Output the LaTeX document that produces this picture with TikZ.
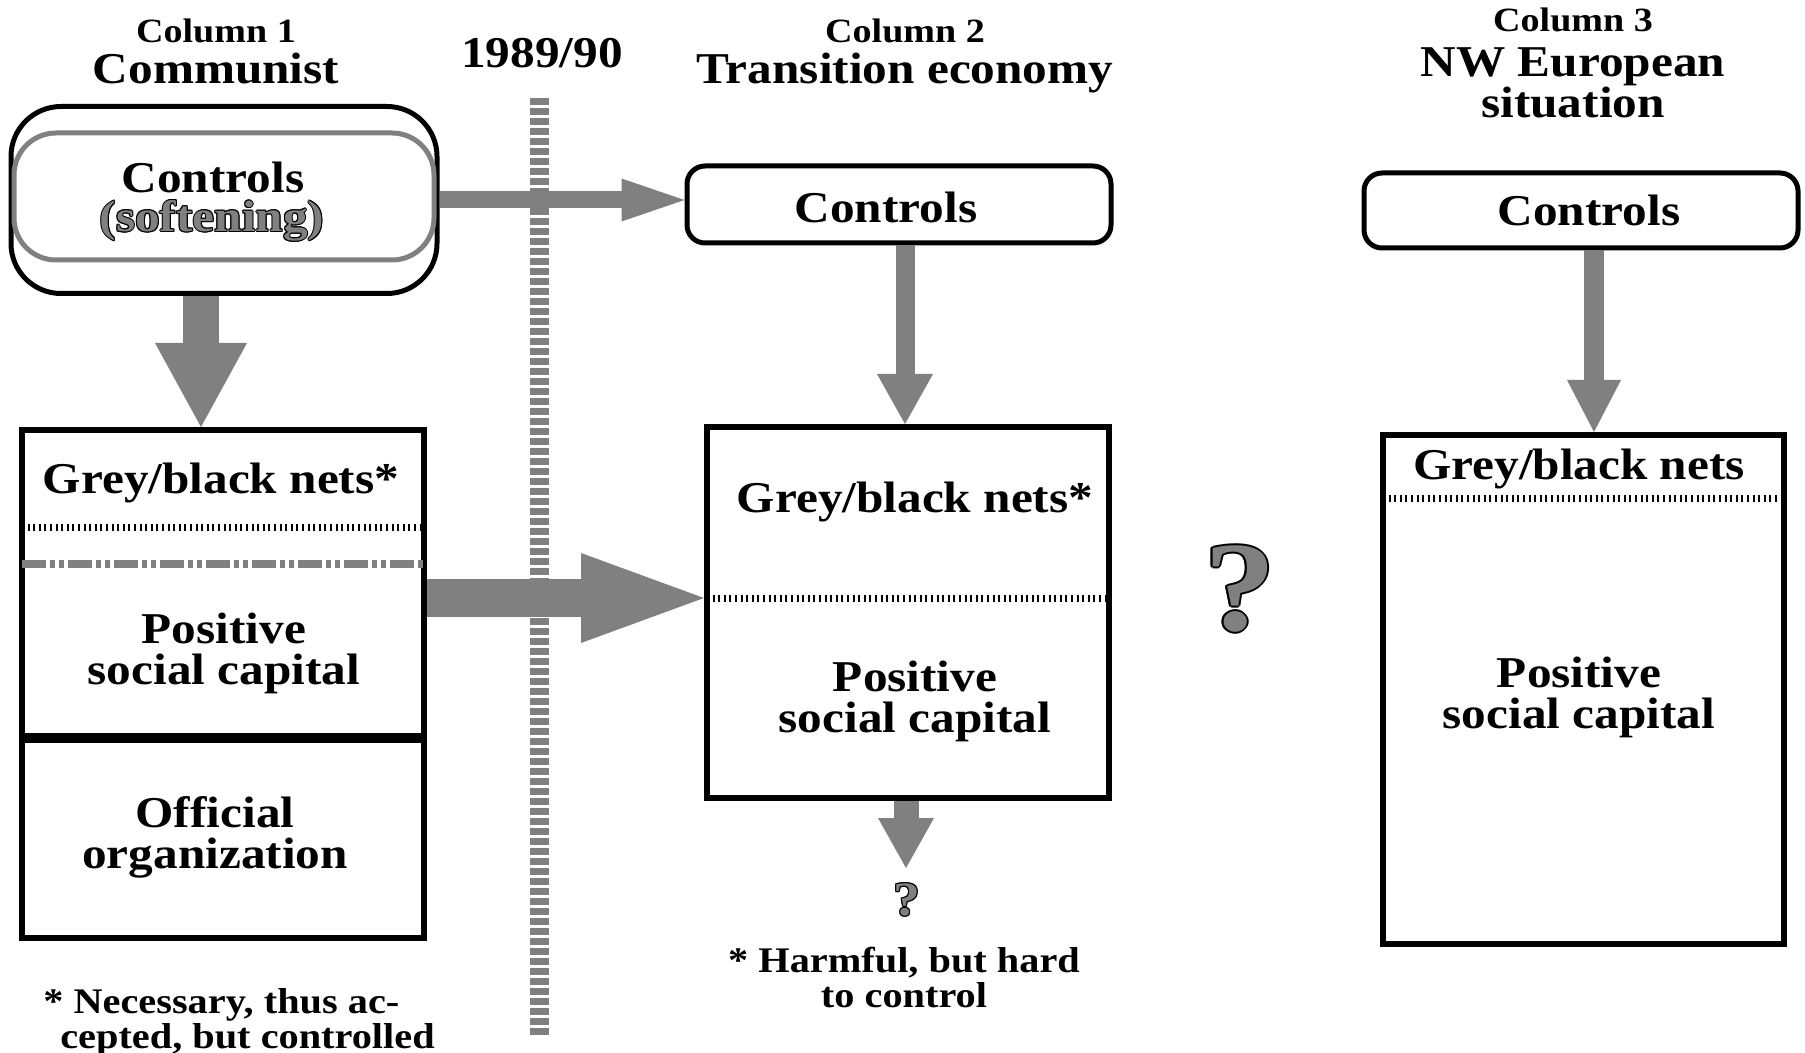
\documentclass[tikz,border=0pt]{standalone}
\usepackage{fontspec}
\setmainfont{LiberationSerif}[Extension=.ttf, UprightFont=*-Regular, BoldFont=*-Bold, FakeStretch=1.12]
\usetikzlibrary{arrows.meta,positioning}
\definecolor{arrowgrey}{HTML}{808080}
\tikzset{
  heading/.style={font=\bfseries\fontsize{17}{19}\selectfont},
  bigtext/.style={font=\bfseries\fontsize{22}{20.5}\selectfont, align=center},
  note/.style={font=\bfseries\fontsize{18}{17.5}\selectfont, align=center},
  qmark/.style={font=\bfseries\fontsize{#1}{#1}\selectfont, inner sep=0pt},
  ctrlbox/.style={draw, line width=2.5pt, rounded corners=9pt, fill=white, inner sep=0pt},
  softbox/.style={draw=arrowgrey, line width=2.5pt, rounded corners=21pt, inner sep=0pt},
  netbox/.style={draw, line width=3pt, inner sep=0pt},
  flow/.style n args={3}{draw=arrowgrey, line width=#1,
    -{Triangle[width=#2, length=#3, line width=0pt, fill=arrowgrey]}},
  dotline/.style={line width=3.5pt, dash pattern=on 1pt off 1.8pt},
  greydash/.style={draw=arrowgrey, line width=4pt,
    dash pattern=on 12pt off 2pt on 2.5pt off 2pt on 2.5pt off 2pt},
  sepline/.style={draw=arrowgrey, line width=9.5pt, dash pattern=on 3.3pt off 1.7pt},
}
\begin{document}
\begin{tikzpicture}[x=0.5pt, y=-0.5pt]
\useasboundingbox (0,0) rectangle (1805,1053);

% the break of 1989/90
\draw[sepline] (539,98) -- (539,1036);

% headings
\node[heading] (headA) at (216,31) {Column 1};
\node[bigtext] (nameA) at (216,69) {Communist};
\node[bigtext] (year) at (542,53) {1989/90};
\node[heading] (headB) at (905,31) {Column 2};
\node[bigtext] (nameB) at (905,73) {Transition economy};
\node[heading] (headC) at (1573,20) {Column 3};
\node[bigtext] (nameC) at (1573,83) {NW European\\situation};

% column 1
\node[ctrlbox, rounded corners=25pt, minimum width=213pt, minimum height=93.5pt] (ctrlA) at (224,200) {};
\node[softbox, minimum width=210pt, minimum height=63.5pt] (softA) at (224,196.5) {};
\node[bigtext] (ctrlAtext) at (213,177) {Controls};
\foreach \dx/\dy [count=\i] in {.5/0,-.5/0,0/.5,0/-.5,.35/.35,-.35/.35,.35/-.35,-.35/-.35}
  \node[bigtext] (softring\i) at ([shift={(\dx pt,\dy pt)}]212,221) {(softening)};
\node[bigtext, text=arrowgrey] (softtext) at (212,221) {(softening)};

\node[netbox, minimum width=201pt, minimum height=153pt] (boxA) at (223,583) {};
\node[netbox, minimum width=201pt, minimum height=99pt] (orgA) at (223,839) {};
\coordinate (dotA) at (223,528);
\coordinate (dashA) at (223,564);
\draw[dotline, shorten <=1.5pt, shorten >=1.5pt] (boxA.west |- dotA) -- (boxA.east |- dotA);
\draw[greydash, shorten <=1.5pt, shorten >=1.5pt] (boxA.west |- dashA) -- (boxA.east |- dashA);
\node[bigtext] (netsA) at (221,483) {Grey/black nets*};
\node[bigtext] (posA) at (224,653) {Positive\\social capital};
\node[bigtext] (offA) at (215,837) {Official\\organization};
\node[note, align=left] (noteA) at (239,1022) {* Necessary, thus ac-\\\hspace*{8.5pt}cepted, but controlled};

% column 2
\node[ctrlbox, minimum width=212pt, minimum height=38.5pt] (ctrlB) at (899,204.5) {};
\node[bigtext] (ctrlBtext) at (886,207) {Controls};
\node[netbox, minimum width=201pt, minimum height=185.5pt] (boxB) at (908,612.5) {};
\coordinate (splitB) at (908,598);
\draw[dotline, shorten <=1.5pt, shorten >=1.5pt] (boxB.west |- splitB) -- (boxB.east |- splitB);
\node[bigtext] (netsB) at (915,502) {Grey/black nets*};
\node[bigtext] (posB) at (915,701) {Positive\\social capital};
\coordinate (qB) at (906,868);
\foreach \dx/\dy [count=\i] in {.6/0,-.6/0,0/.6,0/-.6,.4/.4,-.4/.4,.4/-.4,-.4/-.4}
  \node[qmark=24] (qBring\i) at ([shift={(\dx pt,\dy pt)}]907,900) {?};
\node[qmark=24, text=arrowgrey] (qBmark) at (907,900) {?};
\node[note] (noteB) at (904,977) {* Harmful, but hard\\to control};

% column 3
\node[ctrlbox, minimum width=217pt, minimum height=37.5pt] (ctrlC) at (1581,210.5) {};
\node[bigtext] (ctrlCtext) at (1589,210) {Controls};
\node[netbox, minimum width=200.5pt, minimum height=254.5pt] (boxC) at (1583.5,689.5) {};
\coordinate (dotC) at (1583.5,499);
\draw[dotline, shorten <=1.5pt, shorten >=1.5pt] (boxC.west |- dotC) -- (boxC.east |- dotC);
\node[bigtext] (netsC) at (1579,469) {Grey/black nets};
\node[bigtext] (posC) at (1579,697) {Positive\\social capital};

% open question between columns 2 and 3
\foreach \dx/\dy [count=\i] in {1/0,-1/0,0/1,0/-1,.7/.7,-.7/.7,.7/-.7,-.7/-.7}
  \node[qmark=64] (qCring\i) at ([shift={(\dx pt,\dy pt)}]1240,589) {?};
\node[qmark=64, text=arrowgrey] (qCmark) at (1240,589) {?};

% flows
\draw[flow={18pt}{46pt}{42pt}] ([xshift=-11.5pt]ctrlA.south) -- ([xshift=-11pt]boxA.north);
\draw[flow={8.5pt}{21.5pt}{31.5pt}] (ctrlA.east) -- (ctrlA.east -| ctrlB.west);
\draw[flow={19pt}{45pt}{61.5pt}] (boxA.east |- splitB) -- (boxB.west |- splitB);
\draw[flow={9.5pt}{28pt}{25pt}] ([xshift=3pt]ctrlB.south) -- ([xshift=3pt]ctrlB.south |- boxB.north);
\draw[flow={12.5pt}{28pt}{25pt}] (boxB.south -| qB) -- (qB);
\draw[flow={10pt}{27pt}{26pt}] ([xshift=6.5pt]ctrlC.south) -- ([xshift=6.5pt]ctrlC.south |- boxC.north);
\end{tikzpicture}
\end{document}
